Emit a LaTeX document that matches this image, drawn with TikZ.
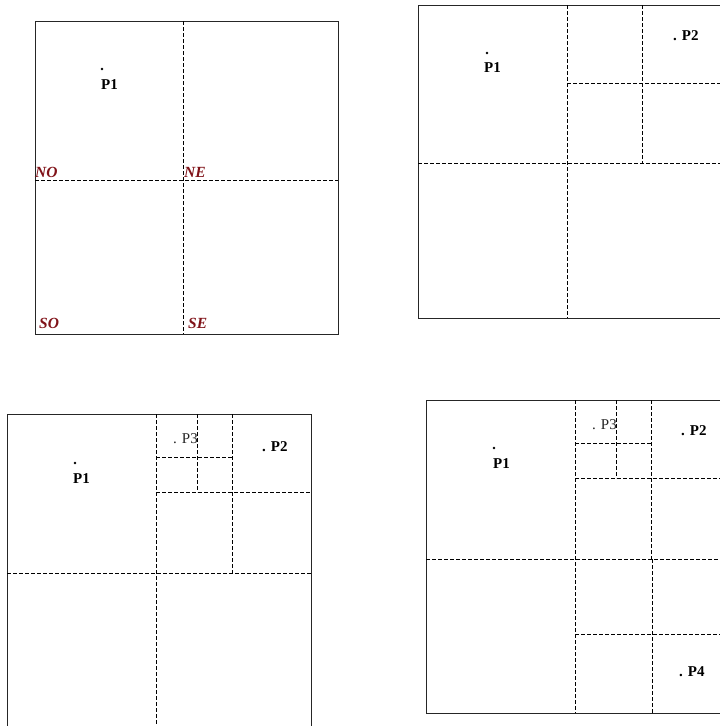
\documentclass[tikz,border=0pt]{standalone}
\usepackage{fontspec}
\setmainfont{Liberation Serif}
\usetikzlibrary{positioning}
\definecolor{quadred}{RGB}{128, 18, 24}
\tikzset{
  cellbox/.style = {draw=black!85, line width=0.8pt},
  split/.style   = {draw=black, line width=1pt, dash pattern=on 3.5pt off 2.5pt},
  ptdot/.style   = {circle, fill=black, inner sep=0pt, minimum size=2.6pt},
  ptlbl/.style   = {font=\fontsize{15}{15}\selectfont\bfseries, inner sep=0pt, anchor=base west},
  ptlight/.style = {font=\fontsize{15}{15}\selectfont, inner sep=0pt, anchor=base west, text=black!85},
  quadlbl/.style = {font=\fontsize{15.5}{15.5}\selectfont\bfseries\itshape, text=quadred, inner sep=0pt, anchor=base west},
}

\begin{document}
\begin{tikzpicture}[x=1pt, y=-1pt]

% cadre de la figure
\clip (0,0) rectangle (720,726);

% === (a) premier decoupage : quatre quadrants ===
\draw[cellbox] (35,21) rectangle (338,334);
\draw[split] (183,21) -- (183,334);
\draw[split] (35,180) -- (338,180);
\node[ptdot] (ad) at (102,69) {};
\node[ptlbl] (ap1) at (101,89) {P1};
\node[quadlbl] (ano) at (35,177) {NO};
\node[quadlbl] (ane) at (184,177) {NE};
\node[quadlbl] (aso) at (39,328) {SO};
\node[quadlbl] (ase) at (188,328) {SE};

% === (b) insertion de P2 : NE redecoupe ===
\draw[cellbox] (418,5) rectangle (722,318);
\draw[split] (567,5) -- (567,318);
\draw[split] (418,163) -- (722,163);
\draw[split] (642,5) -- (642,163);
\draw[split] (567,83) -- (722,83);
\node[ptdot] (bd) at (487,53) {};
\node[ptlbl] (bp1) at (484,72) {P1};
\node[ptlbl] (bp2) at (673,40) {. P2};

% === (c) insertion de P3 : NO de NE redecoupe ===
\draw[cellbox] (7,414) rectangle (311,732);
\draw[split] (156,414) -- (156,732);
\draw[split] (7,573) -- (311,573);
\draw[split] (232,414) -- (232,573);
\draw[split] (156,492) -- (311,492);
\draw[split] (197,414) -- (197,492);
\draw[split] (156,457) -- (232,457);
\node[ptdot] (cd) at (75,463) {};
\node[ptlbl] (cp1) at (73,483) {P1};
\node[ptlbl] (cp2) at (262,451) {. P2};
\node[ptlight] (cp3) at (173,443) {. P3};

% === (d) insertion de P4 : SE redecoupe ===
\draw[cellbox] (426,400) rectangle (722,713);
\draw[split] (575,400) -- (575,713);
\draw[split] (426,559) -- (722,559);
\draw[split] (651,400) -- (651,559);
\draw[split] (575,478) -- (722,478);
\draw[split] (616,400) -- (616,478);
\draw[split] (575,443) -- (651,443);
\draw[split] (575,634) -- (722,634);
\draw[split] (652,559) -- (652,713);
\node[ptdot] (dd) at (494,448) {};
\node[ptlbl] (dp1) at (493,468) {P1};
\node[ptlbl] (dp2) at (681,435) {. P2};
\node[ptlight] (dp3) at (592,429) {. P3};
\node[ptlbl] (dp4) at (679,676) {. P4};

\end{tikzpicture}
\end{document}
